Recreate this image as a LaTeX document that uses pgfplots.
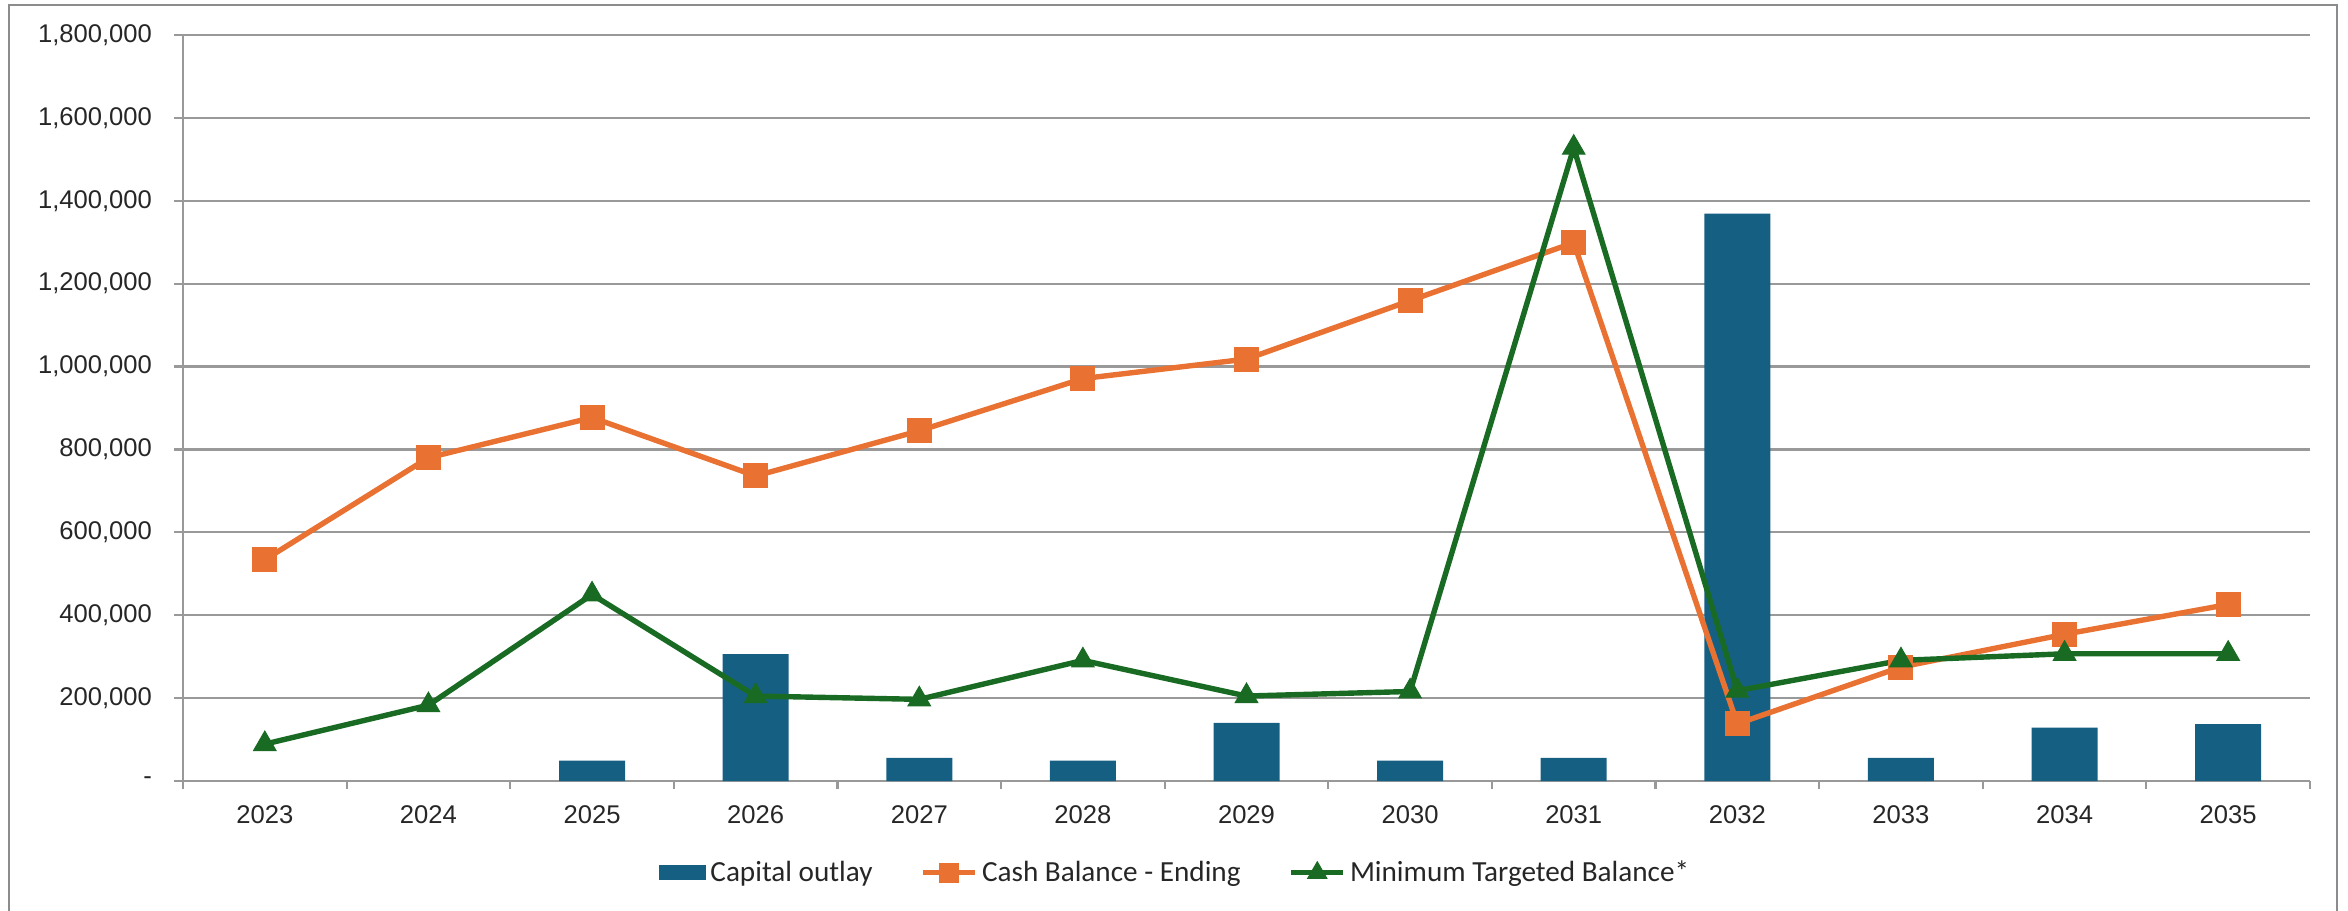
\documentclass[border=0pt]{standalone}
\usepackage{pgfplots}
\pgfplotsset{compat=1.18}
\usepackage{fontspec}
\setmainfont{Liberation Sans}
\newfontfamily\legendfont{Carlito}
\definecolor{barblue}{HTML}{156082}
\definecolor{cashorange}{HTML}{E97132}
\definecolor{mingreen}{HTML}{196B24}
\definecolor{gridgray}{HTML}{999999}
\definecolor{framegray}{HTML}{8C8C8C}
\definecolor{labelc}{HTML}{262626}
\pgfplotsset{
  linelegend/.style={legend image code/.code={\draw[mark repeat=2,mark phase=2,##1,mark size=#1] plot coordinates {(0pt,0pt) (13pt,0pt) (26pt,0pt)};}},
  barlegend/.style={legend image code/.code={\fill[barblue] (0pt,-3.75pt) rectangle (23.5pt,3.75pt);}},
}

\begin{document}
\begin{tikzpicture}
\useasboundingbox (0,0) rectangle (1174pt,455pt);
\draw[color=framegray, line width=1.2pt] (4.5pt,-2pt) -- (4.5pt,452.5pt) -- (1168.5pt,452.5pt) -- (1168.5pt,-2pt);
\begin{axis}[
  at={(91.5pt,64.5pt)}, anchor=south west,
  scale only axis, width=1063.5pt, height=373pt,
  xmin=-0.5, xmax=12.5, ymin=0, ymax=1800000,
  axis x line*=bottom, axis y line*=left,
  axis line style={-, draw=gridgray, line width=1.1pt},
  tick align=outside,
  xtick={0,1,2,3,4,5,6,7,8,9,10,11,12},
  xticklabels={2023,2024,2025,2026,2027,2028,2029,2030,2031,2032,2033,2034,2035},
  major x tick style={draw=none},
  minor xtick={-0.5,0.5,1.5,2.5,3.5,4.5,5.5,6.5,7.5,8.5,9.5,10.5,11.5,12.5},
  minor x tick style={draw=gridgray, line width=1.1pt},
  minor tick length=4pt,
  major tick length=4.5pt,
  ytick={0,200000,400000,600000,800000,1000000,1200000,1400000,1600000,1800000},
  yticklabels={{-},{200,000},{400,000},{600,000},{800,000},{1,000,000},{1,200,000},{1,400,000},{1,600,000},{1,800,000}},
  scaled y ticks=false,
  y tick style={draw=gridgray, line width=1.1pt},
  ymajorgrids=true,
  grid style={draw=gridgray, line width=1.1pt},
  ticklabel style={font=\fontsize{12.8pt}{15pt}\selectfont, text=labelc},
  yticklabel style={anchor=east, xshift=-7.5pt},
  xticklabel style={anchor=north, yshift=-4.5pt},
  legend style={at={(0.467,-0.123)}, anchor=center, draw=none, fill=none,
    font=\legendfont\fontsize{14.6pt}{17pt}\selectfont, text=labelc,
    /tikz/every even column/.append style={column sep=22pt}},
  legend columns=3,
  legend cell align=left,
]
\addplot[ybar, bar width=33pt, fill=barblue, draw=none, barlegend]
  coordinates {(2,49000) (3,306000) (4,56000) (5,49000) (6,140000) (7,49000) (8,56000) (9,1369000) (10,56000) (11,129000) (12,137000)};
\addlegendentry{Capital outlay}
\addplot[color=cashorange, line width=2.7pt, mark=square*, mark size=6pt,
  mark options={solid, fill=cashorange, draw=cashorange, line width=0.5pt},
  linelegend=4.75pt]
  coordinates {(0,534000) (1,780000) (2,877000) (3,736000) (4,845000) (5,971000) (6,1018000) (7,1159000) (8,1299000) (9,138000) (10,275000) (11,354000) (12,426000)};
\addlegendentry{Cash Balance - Ending}
\addplot[color=mingreen, line width=2.7pt, mark=triangle*, mark size=6.5pt,
  mark options={solid, fill=mingreen, draw=mingreen, line width=0.5pt},
  linelegend=5.5pt]
  coordinates {(0,89000) (1,183000) (2,450000) (3,205000) (4,197000) (5,291000) (6,205000) (7,216000) (8,1528000) (9,218000) (10,291000) (11,307000) (12,307000)};
\addlegendentry{Minimum Targeted Balance*}
\end{axis}
\end{tikzpicture}
\end{document}
